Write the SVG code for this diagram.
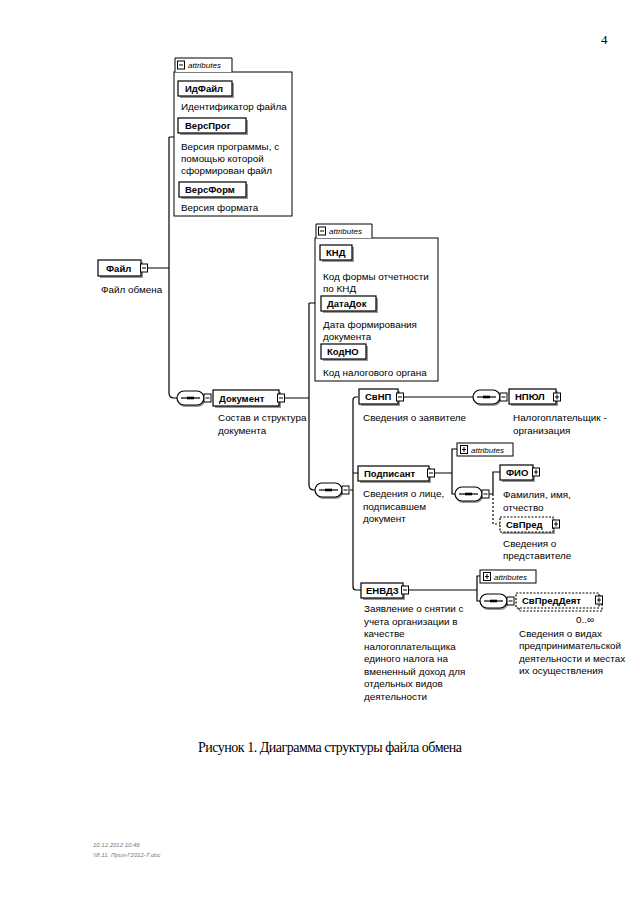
<svg xmlns="http://www.w3.org/2000/svg" width="640" height="905" viewBox="0 0 640 905">
<style>
.bx{fill:#fff;stroke:#000;stroke-width:1.2}
.sh{fill:#999;stroke:none}
.dbx{fill:#fff;stroke:#000;stroke-width:1.2;stroke-dasharray:2 1.5}
.ab{fill:#fff;stroke:#000;stroke-width:1}
.nm{font-family:"Liberation Sans",Arial,sans-serif;font-size:9.5px;font-weight:bold;fill:#000}
.ds{font-family:"Liberation Sans",Arial,sans-serif;font-size:9.9px;fill:#000}
.at{font-family:"Liberation Sans",Arial,sans-serif;font-size:8px;font-style:italic;fill:#000}
.ln{fill:none;stroke:#000;stroke-width:1.2}
.dl{fill:none;stroke:#000;stroke-width:1.2;stroke-dasharray:2 2}
</style>
<defs>
<g id="mn"><rect x="-3.5" y="-4" width="7" height="8" fill="#fff" stroke="#000" stroke-width="1"/><line x1="-2" y1="0" x2="2" y2="0" stroke="#000" stroke-width="1"/></g>
<g id="pl"><rect x="-3.5" y="-4" width="7" height="8" fill="#fff" stroke="#000" stroke-width="1"/><line x1="-2" y1="0" x2="2" y2="0" stroke="#000" stroke-width="1"/><line x1="0" y1="-2.5" x2="0" y2="2.5" stroke="#000" stroke-width="1"/></g>
<g id="seq"><rect x="1" y="-5" width="27" height="14" rx="7" fill="#999"/><rect x="0" y="-7" width="27" height="14" rx="7" fill="#fff" stroke="#000" stroke-width="1.2"/><line x1="4" y1="0" x2="23" y2="0" stroke="#000" stroke-width="1.2"/><rect x="10" y="-1.3" width="7" height="2.6" fill="#000"/><use href="#mn" x="30.5" y="0"/></g>
</defs>
<rect width="640" height="905" fill="#fff"/>
<text x="601" y="44" style="font-family:'Liberation Serif',serif;font-size:13px">4</text>

<g id="connectors">
<path class="ln" d="M148,268 H169 M169,137 H174 M169,137 V393 Q169,398 174,398 H177"/>
<path class="ln" d="M285,398 H309 M309,303 H315 M309,303 V485 Q309,490 314,490 H315"/>
<path class="ln" d="M350,490 H353 M358,397 H356 Q353,397 353,400 V587 Q353,590 356,590 H361 M353,473 H358"/>
<path class="ln" d="M404,397 H473"/>
<path class="ln" d="M435,473 H452 M457,449 H452 V494 H455"/>
<path class="ln" d="M489,494 H493 M493,494 V472 H500"/>
<path class="dl" d="M493,494 V524 H500"/>
<path class="ln" d="M409,590 H477 M480,576 H477 V601 H480"/>
</g>

<g id="attrs1">
<rect class="ab" x="174" y="72" width="118" height="144"/>
<path class="ab" d="M175,72 V58 H232 V72"/>
<use href="#mn" x="181" y="65"/>
<text class="at" x="188" y="68">attributes</text>
</g>
<g id="n-idfile"><rect class="sh" x="180" y="83" width="54" height="15"/><rect class="bx" x="178" y="81" width="54" height="15"/><text class="nm" x="185" y="92">ИдФайл</text><text class="ds" x="181" y="110">Идентификатор файла</text></g>
<g id="n-versprog"><rect class="sh" x="180" y="120" width="68" height="15"/><rect class="bx" x="178" y="118" width="68" height="15"/><text class="nm" x="185" y="129">ВерсПрог</text><text class="ds" x="181" y="150">Версия программы, с</text><text class="ds" x="181" y="162">помощью которой</text><text class="ds" x="181" y="174">сформирован файл</text></g>
<g id="n-versform"><rect class="sh" x="181" y="184" width="67" height="15"/><rect class="bx" x="179" y="182" width="67" height="15"/><text class="nm" x="185" y="193">ВерсФорм</text><text class="ds" x="181" y="211">Версия формата</text></g>

<g id="n-file"><rect class="sh" x="100" y="262" width="43" height="16"/><rect class="bx" x="98" y="260" width="43" height="16"/><text class="nm" x="106" y="272">Файл</text><use href="#mn" x="144" y="268"/><text class="ds" x="101" y="293">Файл обмена</text></g>

<g id="seq1"><use href="#seq" transform="translate(177,398)"/></g>
<g id="n-doc"><rect class="sh" x="215" y="392" width="66" height="16"/><rect class="bx" x="213" y="390" width="66" height="16"/><text class="nm" x="219" y="402">Документ</text><use href="#mn" x="281" y="398"/><text class="ds" x="218" y="421">Состав и структура</text><text class="ds" x="218" y="434">документа</text></g>

<g id="attrs2">
<rect class="ab" x="315" y="238" width="123" height="143"/>
<path class="ab" d="M316,238 V224 H372 V238"/>
<use href="#mn" x="322" y="231"/>
<text class="at" x="329" y="234">attributes</text>
</g>
<g id="n-knd"><rect class="sh" x="322" y="247" width="32" height="15"/><rect class="bx" x="320" y="245" width="32" height="15"/><text class="nm" x="326" y="256">КНД</text><text class="ds" x="323" y="280">Код формы отчетности</text><text class="ds" x="323" y="292">по КНД</text></g>
<g id="n-datadok"><rect class="sh" x="323" y="298" width="55" height="15"/><rect class="bx" x="321" y="296" width="55" height="15"/><text class="nm" x="327" y="307">ДатаДок</text><text class="ds" x="323" y="328">Дата формирования</text><text class="ds" x="323" y="340">документа</text></g>
<g id="n-kodno"><rect class="sh" x="323" y="346" width="45" height="15"/><rect class="bx" x="321" y="344" width="45" height="15"/><text class="nm" x="327" y="355">КодНО</text><text class="ds" x="323" y="376">Код налогового органа</text></g>

<g id="seq2"><use href="#seq" transform="translate(315,490)"/></g>

<g id="n-svnp"><rect class="sh" x="361" y="391" width="39" height="15"/><rect class="bx" x="359" y="389" width="39" height="15"/><text class="nm" x="365" y="400">СвНП</text><use href="#mn" x="400" y="397"/><text class="ds" x="363" y="421">Сведения о заявителе</text></g>
<g id="seq3"><use href="#seq" transform="translate(473,397)"/></g>
<g id="n-npul"><rect class="sh" x="511" y="391" width="47" height="15"/><rect class="bx" x="509" y="389" width="47" height="15"/><text class="nm" x="515" y="400">НПЮЛ</text><use href="#pl" x="557" y="397"/><text class="ds" x="513" y="421">Налогоплательщик -</text><text class="ds" x="513" y="434">организация</text></g>

<g id="attrs3"><rect class="ab" x="457" y="443" width="56" height="13"/><use href="#pl" x="464" y="449.5"/><text class="at" x="471" y="453">attributes</text></g>
<g id="n-podp"><rect class="sh" x="360" y="468" width="71" height="15"/><rect class="bx" x="358" y="466" width="71" height="15"/><text class="nm" x="364" y="477">Подписант</text><use href="#mn" x="431" y="473"/><text class="ds" x="363" y="497">Сведения о лице,</text><text class="ds" x="363" y="510">подписавшем</text><text class="ds" x="363" y="522">документ</text></g>
<g id="seq4"><use href="#seq" transform="translate(455,494)"/></g>
<g id="n-fio"><rect class="sh" x="502" y="467" width="33" height="15"/><rect class="bx" x="500" y="465" width="33" height="15"/><text class="nm" x="506" y="476">ФИО</text><use href="#pl" x="536" y="472"/><text class="ds" x="503" y="498">Фамилия, имя,</text><text class="ds" x="503" y="511">отчество</text></g>
<g id="n-svpred"><rect class="sh" x="502" y="519" width="53" height="15"/><rect class="dbx" x="500" y="517" width="53" height="15"/><text class="nm" x="506" y="528">СвПред</text><use href="#pl" x="556" y="524"/><text class="ds" x="503" y="547">Сведения о</text><text class="ds" x="503" y="559">представителе</text></g>

<g id="n-envd"><rect class="sh" x="363" y="585" width="42" height="15"/><rect class="bx" x="361" y="583" width="42" height="15"/><text class="nm" x="366" y="594">ЕНВДЗ</text><use href="#mn" x="405" y="590"/>
<text class="ds" x="364" y="612">Заявление о снятии с</text><text class="ds" x="364" y="625">учета организации в</text><text class="ds" x="364" y="637">качестве</text><text class="ds" x="364" y="650">налогоплательщика</text><text class="ds" x="364" y="662">единого налога на</text><text class="ds" x="364" y="675">вмененный доход для</text><text class="ds" x="364" y="687">отдельных видов</text><text class="ds" x="364" y="700">деятельности</text></g>
<g id="attrs4"><rect class="ab" x="480" y="570" width="56" height="13"/><use href="#pl" x="487" y="576.5"/><text class="at" x="494" y="580">attributes</text></g>
<g id="seq5"><use href="#seq" transform="translate(480,601)"/></g>
<g id="n-svpreddeyat"><rect class="dbx" x="519" y="596" width="83" height="15"/><rect class="dbx" x="516" y="593" width="83" height="15"/><text class="nm" x="522" y="604">СвПредДеят</text><use href="#pl" x="599" y="600"/><text class="ds" x="576" y="623">0..∞</text>
<text class="ds" x="519" y="637">Сведения о видах</text><text class="ds" x="519" y="649">предпринимательской</text><text class="ds" x="519" y="662">деятельности и местах</text><text class="ds" x="519" y="674">их осуществления</text></g>

<text x="198" y="752" textLength="264" style="font-family:'Liberation Serif',serif;font-size:14px">Рисунок 1. Диаграмма структуры файла обмена</text>
<text x="93" y="847" style="font-family:'Liberation Sans',sans-serif;font-size:6px;font-style:italic;fill:#777">10.12.2012 10:46</text>
<text x="93" y="857" style="font-family:'Liberation Sans',sans-serif;font-size:6px;font-style:italic;fill:#777">\\8.11. Прил-Г2012-7.doc</text>
</svg>
